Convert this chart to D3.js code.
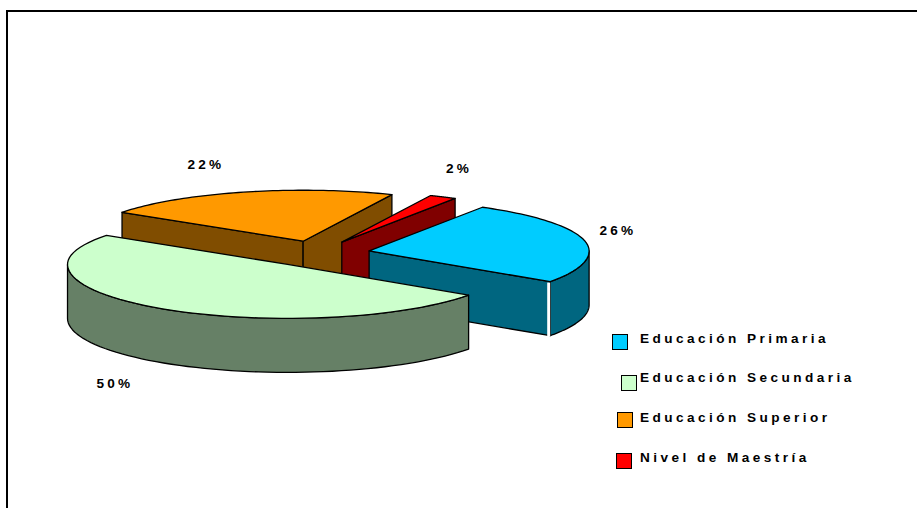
<!DOCTYPE html>
<html>
<head>
<meta charset="utf-8">
<script src="https://cdn.jsdelivr.net/npm/d3@7"></script>
<style>
html, body { margin: 0; padding: 0; background: #fff; }
svg { display: block; }
text { font-family: "Liberation Sans", Arial, sans-serif; font-weight: bold; font-size: 13.6px; fill: #000; }
.value { letter-spacing: 3.2px; }
.legend text { letter-spacing: 3.45px; }
</style>
</head>
<body>
<div id="chart"></div>
<script>
var categories = ["Educación Primaria", "Educación Secundaria", "Educación Superior", "Nivel de Maestría"];
var values = [26, 50, 22, 2];
var valueLabels = ["26%", "50%", "22%", "2%"];
var colors = ["#00ccff", "#ccffcc", "#ff9900", "#ff0000"];

var width = 917;
var height = 508;

// layout of the 3d pie
var centerX = 317.5, centerY = 253.7;
var rx = 220, ryFront = 54, ryBack = 51;
var depth = 54;
var explode = 0.24;
var startDeg = 31;

// label spots, same order as categories
var labelPos = [[618, 235], [115, 388], [206, 169], [459, 173]];
// the legend rows are not aligned in the original
var legendPos = [[612, 334], [621, 375], [617, 412], [616, 453]];
var legendTextY = [343, 382, 422, 462];

var svg = d3.select("#chart").append("svg")
    .attr("width", width)
    .attr("height", height);

// frame
svg.append("path")
    .attr("d", "M7," + height + "V11H" + width)
    .attr("fill", "none")
    .attr("stroke", "#000")
    .attr("stroke-width", 2);

var pie = d3.pie()
    .sort(null)
    .startAngle(startDeg * Math.PI / 180)
    .endAngle((startDeg + 360) * Math.PI / 180);

var line = d3.line();

function rimPoint(c, a) {
    var cos = Math.cos(a);
    return [c[0] + rx * Math.sin(a), c[1] - (cos > 0 ? ryBack : ryFront) * cos];
}

function rimArc(c, a0, a1) {
    return d3.range(0, 61).map(function (i) {
        return rimPoint(c, a0 + (a1 - a0) * i / 60);
    });
}

function sideColor(col) {
    var c = d3.rgb(col);
    return d3.rgb(c.r / 2, c.g / 2, c.b / 2).formatHex();
}

function down(p) {
    return [p[0], p[1] + depth];
}

var slices = pie(values).map(function (d, i) {
    var mid = (d.startAngle + d.endAngle) / 2;
    return {
        start: d.startAngle,
        end: d.endAngle,
        index: i,
        c: [centerX + 220 * explode * Math.sin(mid), centerY - 54 * explode * Math.cos(mid)]
    };
});

// paint from the back to the front
slices.sort(function (a, b) { return a.c[1] - b.c[1]; });

var groups = svg.selectAll("g.slice")
    .data(slices)
    .enter().append("g")
    .attr("class", "slice");

function face(g, pts, fill) {
    g.append("path")
        .attr("d", line(pts) + "Z")
        .attr("fill", fill)
        .attr("stroke", "#000")
        .attr("stroke-width", 1.3)
        .attr("stroke-linejoin", "round");
}

groups.each(function (d) {
    var g = d3.select(this);
    var side = sideColor(colors[d.index]);

    // radial walls, only the ones that look at the viewer
    [d.start, d.end].forEach(function (a, k) {
        var visible = k == 0 ? Math.sin(a) < 0 : Math.sin(a) > 0;
        if (!visible) return;
        var p = rimPoint(d.c, a);
        face(g, [d.c, p, down(p), down(d.c)], side);
    });

    // outer wall on the front half
    var a0 = Math.max(d.start, Math.PI / 2);
    var a1 = Math.min(d.end, Math.PI * 1.5);
    if (a0 < a1) {
        var top = rimArc(d.c, a0, a1);
        face(g, top.concat(top.map(down).reverse()), side);
    }

    // top
    face(g, [d.c].concat(rimArc(d.c, d.start, d.end)), colors[d.index]);

    // thin white gap between the radial wall and the outer wall
    if (d.start < Math.PI / 2 && d.end > Math.PI / 2 && d.end < Math.PI) {
        var e = rimPoint(d.c, d.end);
        g.append("line")
            .attr("x1", e[0] - 1.5).attr("x2", e[0] - 1.5)
            .attr("y1", e[1] + 1).attr("y2", e[1] + depth + 1)
            .attr("stroke", "#fff")
            .attr("stroke-width", 3);
    }
});

// value labels
svg.selectAll("text.value")
    .data(valueLabels)
    .enter().append("text")
    .attr("class", "value")
    .attr("x", function (d, i) { return labelPos[i][0]; })
    .attr("y", function (d, i) { return labelPos[i][1]; })
    .attr("text-anchor", "middle")
    .text(function (d) { return d; });

// legend
var legend = svg.selectAll("g.legend")
    .data(categories)
    .enter().append("g")
    .attr("class", "legend");

legend.append("rect")
    .attr("x", function (d, i) { return legendPos[i][0] + 0.5; })
    .attr("y", function (d, i) { return legendPos[i][1] + 0.5; })
    .attr("width", 15)
    .attr("height", 15)
    .attr("fill", function (d, i) { return colors[i]; })
    .attr("stroke", "#000")
    .attr("stroke-width", 1);

legend.append("text")
    .attr("x", 640)
    .attr("y", function (d, i) { return legendTextY[i]; })
    .text(function (d) { return d; });
</script>
</body>
</html>
